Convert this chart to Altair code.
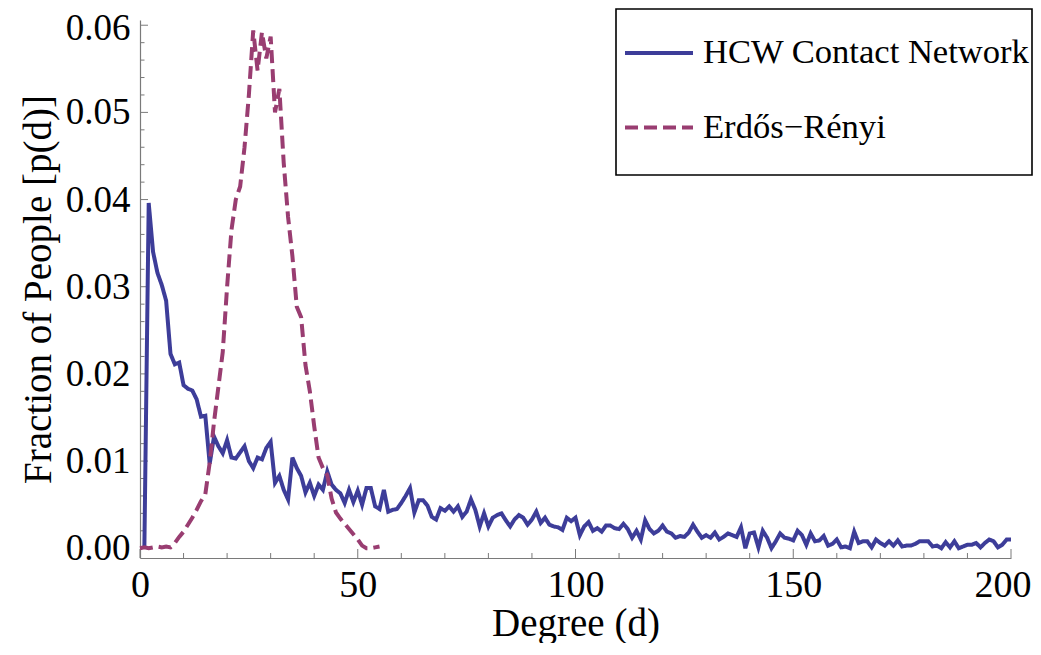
import altair as alt
import pandas as pd

# ---------------- data ----------------
hcw_degree = list(range(1, 201))
hcw_fraction = [
    0.0000, 0.0396, 0.0340, 0.0316, 0.0302, 0.0284, 0.0223, 0.0211, 0.0213, 0.0187,
    0.0183, 0.0181, 0.0171, 0.0151, 0.0152, 0.0097, 0.0128, 0.0117, 0.0109, 0.0124,
    0.0104, 0.0103, 0.0110, 0.0117, 0.0100, 0.0092, 0.0104, 0.0102, 0.0115, 0.0122,
    0.0075, 0.0083, 0.0067, 0.0056, 0.0104, 0.0092, 0.0083, 0.0064, 0.0075, 0.0060,
    0.0073, 0.0067, 0.0088, 0.0073, 0.0067, 0.0063, 0.0052, 0.0067, 0.0053, 0.0066,
    0.0050, 0.0069, 0.0069, 0.0048, 0.0045, 0.0067, 0.0042, 0.0044, 0.0045, 0.0052,
    0.0060, 0.0069, 0.0041, 0.0055, 0.0055, 0.0049, 0.0036, 0.0033, 0.0046, 0.0043,
    0.0048, 0.0042, 0.0048, 0.0036, 0.0042, 0.0056, 0.0044, 0.0025, 0.0040, 0.0025,
    0.0035, 0.0038, 0.0040, 0.0032, 0.0025, 0.0033, 0.0038, 0.0035, 0.0027, 0.0033,
    0.0042, 0.0029, 0.0035, 0.0027, 0.0025, 0.0024, 0.0021, 0.0035, 0.0031, 0.0035,
    0.0015, 0.0025, 0.0030, 0.0020, 0.0023, 0.0019, 0.0026, 0.0026, 0.0023, 0.0022,
    0.0028, 0.0022, 0.0012, 0.0020, 0.0010, 0.0032, 0.0022, 0.0017, 0.0020, 0.0026,
    0.0019, 0.0017, 0.0012, 0.0014, 0.0013, 0.0018, 0.0027, 0.0019, 0.0012, 0.0015,
    0.0012, 0.0018, 0.0010, 0.0013, 0.0017, 0.0015, 0.0013, 0.0024, 0.0000, 0.0017,
    0.0018, 0.0001, 0.0020, 0.0012, 0.0000, 0.0008, 0.0017, 0.0012, 0.0011, 0.0009,
    0.0020, 0.0015, 0.0004, 0.0017, 0.0008, 0.0009, 0.0014, 0.0003, 0.0005, 0.0010,
    0.0001, 0.0002, 0.0000, 0.0019, 0.0006, 0.0008, 0.0008, 0.0001, 0.0010, 0.0006,
    0.0003, 0.0008, 0.0003, 0.0009, 0.0002, 0.0003, 0.0003, 0.0005, 0.0008, 0.0008,
    0.0008, 0.0002, 0.0003, 0.0000, 0.0007, 0.0001, 0.0008, 0.0000, 0.0002, 0.0004,
    0.0004, 0.0006, 0.0001, 0.0006, 0.0010, 0.0008, 0.0001, 0.0004, 0.0010, 0.0010,
]

er_degree = list(range(0, 56))
er_fraction = [
    0.0000, 0.0001, 0.0000, 0.0001, 0.0002, 0.0001, 0.0002, 0.0001, 0.0006, 0.0013,
    0.0019, 0.0027, 0.0035, 0.0044, 0.0054, 0.0062, 0.0098, 0.0145, 0.0185, 0.0225,
    0.0300, 0.0365, 0.0400, 0.0415, 0.0460, 0.0520, 0.0594, 0.0548, 0.0592, 0.0562,
    0.0587, 0.0500, 0.0527, 0.0442, 0.0380, 0.0335, 0.0277, 0.0265, 0.0210, 0.0180,
    0.0140, 0.0104, 0.0092, 0.0084, 0.0057, 0.0041, 0.0034, 0.0028, 0.0022, 0.0016,
    0.0010, 0.0003, 0.0000, 0.0000, 0.0001, 0.0002,
]

series_names = ["HCW Contact Network", "Erdős−Rényi"]
series_colors = ["#3d3d99", "#993d71"]
series_dashes = [[1, 0], [13, 6]]

y_major = [0.00, 0.01, 0.02, 0.03, 0.04, 0.05, 0.06]
y_minor = [0.002, 0.004, 0.006, 0.008, 0.012, 0.014, 0.016, 0.018,
           0.022, 0.024, 0.026, 0.028, 0.032, 0.034, 0.036, 0.038,
           0.042, 0.044, 0.046, 0.048, 0.052, 0.054, 0.056, 0.058]
x_major = [0, 50, 100, 150, 200]
x_minor = [10, 20, 30, 40, 60, 70, 80, 90, 110, 120, 130, 140,
           160, 170, 180, 190]

# ---------------- chart ----------------
df = pd.concat([
    pd.DataFrame({"degree": hcw_degree, "fraction": hcw_fraction, "series": series_names[0]}),
    pd.DataFrame({"degree": er_degree, "fraction": er_fraction, "series": series_names[1]}),
], ignore_index=True)

W, H = 871, 538
FONT = "Liberation Serif"
AXIS_GRAY = "#7a7a7a"

xscale = alt.Scale(domain=[0, 200], nice=False, zero=False)
yscale = alt.Scale(domain=[-0.00112, 0.0606], nice=False, zero=False)

legend_props = dict(
    title=None, orient="none", legendX=483, legendY=-3,
    padding=0,
    symbolType="stroke", symbolSize=4624, symbolStrokeWidth=4,
    labelFont=FONT, labelFontSize=34.6, labelColor="black",
    labelOffset=8, labelLimit=600, rowPadding=21.5,
)

lines = alt.Chart(df).mark_line(strokeWidth=4, strokeCap="butt", strokeJoin="miter").encode(
    x=alt.X("degree:Q", scale=xscale,
            axis=alt.Axis(values=x_major, format="d", title="Degree (d)",
                          labelPadding=8, labelFlush=False,
                          labelAlign=alt.condition("datum.value == 200",
                                                   alt.value("right"), alt.value("center")),
                          labelOffset=alt.condition("datum.value == 200",
                                                    alt.value(20), alt.value(0)),
                          titleX=435.5, titleY=65,
                          titleAlign="center", titleBaseline="middle")),
    y=alt.Y("fraction:Q", scale=yscale,
            axis=alt.Axis(values=y_major, format=".2f", title="Fraction of People [p(d)]",
                          labelPadding=10, labelFlush=False, labelFontSize=37,
                          labelOffset=alt.condition("datum.value == 0.06",
                                                    alt.value(3.5), alt.value(0.5)),
                          titleX=-102, titleY=269,
                          titleAngle=-90, titleAlign="center", titleBaseline="middle")),
    color=alt.Color("series:N", scale=alt.Scale(domain=series_names, range=series_colors),
                    legend=alt.Legend(**legend_props)),
    strokeDash=alt.StrokeDash("series:N", scale=alt.Scale(domain=series_names, range=series_dashes),
                              legend=alt.Legend(**legend_props)),
)

# legend frame
legend_box = alt.Chart(pd.DataFrame({"box": [0]})).mark_rect(
    fill="white", stroke="black", strokeWidth=1.6).encode(
    x=alt.value(476), x2=alt.value(892), y=alt.value(-11), y2=alt.value(155))

ytick_major = alt.Chart(pd.DataFrame({"fraction": y_major})).mark_rule(
    color=AXIS_GRAY, strokeWidth=1).encode(
    y=alt.Y("fraction:Q", scale=yscale), x=alt.value(0), x2=alt.value(8))
ytick_minor = alt.Chart(pd.DataFrame({"fraction": y_minor})).mark_rule(
    color=AXIS_GRAY, strokeWidth=1).encode(
    y=alt.Y("fraction:Q", scale=yscale), x=alt.value(0), x2=alt.value(4.5))
xtick_major = alt.Chart(pd.DataFrame({"degree": x_major})).mark_rule(
    color=AXIS_GRAY, strokeWidth=1).encode(
    x=alt.X("degree:Q", scale=xscale), y=alt.value(H), y2=alt.value(H - 9))
xtick_minor = alt.Chart(pd.DataFrame({"degree": x_minor})).mark_rule(
    color=AXIS_GRAY, strokeWidth=1).encode(
    x=alt.X("degree:Q", scale=xscale), y=alt.value(H), y2=alt.value(H - 5))

chart = alt.layer(ytick_minor, ytick_major, xtick_minor, xtick_major, lines, legend_box).properties(
    width=W, height=H,
    autosize=alt.AutoSizeParams(type="none"),
    padding={"left": 132, "top": 12, "right": 22, "bottom": 85},
    background="white",
).configure_view(stroke=None).configure_axis(
    grid=False, ticks=False,
    domainColor=AXIS_GRAY, domainWidth=1.2,
    labelFont=FONT, labelFontSize=38, labelColor="black",
    titleFont=FONT, titleFontSize=39, titleFontWeight="normal", titleColor="black",
)

chart.save("out.html", embed_options={"renderer": "svg", "actions": False})
